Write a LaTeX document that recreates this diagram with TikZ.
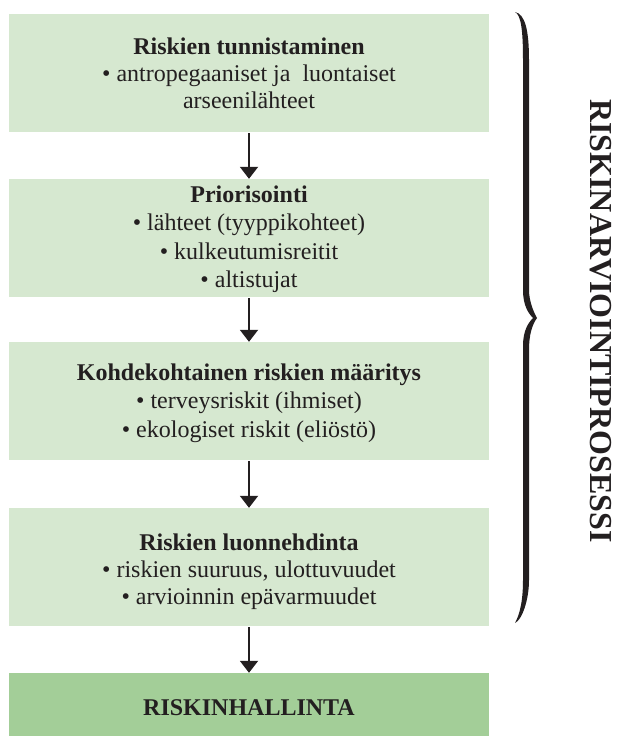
\documentclass[tikz,border=0pt]{standalone}
\usepackage{fontspec}
\setmainfont{Liberation Serif}
\usetikzlibrary{arrows.meta}
\definecolor{lightbox}{RGB}{214,232,208}
\definecolor{darkbox}{RGB}{163,206,152}
\definecolor{ink}{RGB}{35,31,32}
\tikzset{
  stagebox/.style={fill=lightbox, draw=none, minimum width=480pt, minimum height=118pt, inner sep=0pt},
  finalbox/.style={fill=darkbox, draw=none, minimum width=480pt, minimum height=63pt, inner sep=0pt},
  stagetext/.style={align=center, text=ink, font=\fontsize{24}{28.5}\selectfont, inner sep=0pt},
  flow/.style={draw=ink, line width=2pt, -{Triangle[width=18pt,length=12pt]}, shorten <=1pt}
}
\begin{document}
\begin{tikzpicture}[x=1pt,y=-1pt]
\useasboundingbox (0,0) rectangle (616,736);
\node[stagebox] (b1) at (249,73) {};
\node[stagebox] (b2) at (249,238) {};
\node[stagebox] (b3) at (249,401) {};
\node[stagebox] (b4) at (249,567) {};
\node[finalbox] (b5) at (249,704.5) {};
\node[stagetext, font=\fontsize{24}{27}\selectfont] (t1) at (b1.center) {\textbf{Riskien tunnistaminen}\\• antropegaaniset ja\ \ luontaiset\\arseenilähteet};
\node[stagetext] (t2) at ([yshift=-1pt]b2.center) {\textbf{Priorisointi}\\• lähteet (tyyppikohteet)\\• kulkeutumisreitit\\• altistujat};
\node[stagetext] (t3) at ([yshift=-2pt]b3.center) {\textbf{Kohdekohtainen riskien määritys}\\• terveysriskit (ihmiset)\\• ekologiset riskit (eliöstö)};
\node[stagetext, font=\fontsize{24}{27}\selectfont] (t4) at ([yshift=-5pt]b4.center) {\textbf{Riskien luonnehdinta}\\• riskien suuruus, ulottuvuudet\\• arvioinnin epävarmuudet};
\node[stagetext] (t5) at ([yshift=-3pt]b5.center) {\textbf{RISKINHALLINTA}};
\draw[flow] (b1.south) -- (b2.north);
\draw[flow] (b2.south) -- (b3.north);
\draw[flow] (b3.south) -- (b4.north);
\draw[flow] (b4.south) -- (b5.north);
% brace
\fill[ink] (515,12) .. controls (521,15) and (523,30) .. (523,60)
  -- (523,290) .. controls (523,305) and (528,313) .. (533,318)
  .. controls (528,323) and (523,331) .. (523,346)
  -- (523,580) .. controls (523,600) and (520,614) .. (515,623)
  .. controls (522,620) and (529,600) .. (529,580)
  -- (529,350) .. controls (529,335) and (532,325) .. (537,318)
  .. controls (533,311) and (529,300) .. (529,290)
  -- (529,60) .. controls (529,30) and (525,14) .. (515,12) -- cycle;
\node[text=ink, font=\fontsize{32}{32}\selectfont\bfseries, rotate=-90, inner sep=0pt] (lbl) at (601,321) {RISKINARVIOINTIPROSESSI};
\end{tikzpicture}
\end{document}
